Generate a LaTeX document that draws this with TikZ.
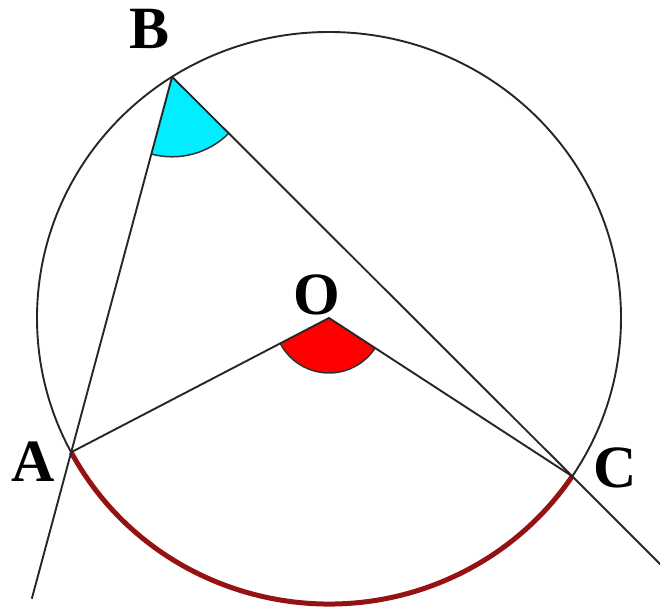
\documentclass[tikz,border=0pt]{standalone}
\usepackage{fontspec}
\setmainfont{Liberation Serif}
\usetikzlibrary{calc,angles}
\definecolor{arcred}{RGB}{150,18,18}
\definecolor{sectcyan}{RGB}{0,238,255}
\begin{document}
\begin{tikzpicture}[x=1pt,y=1pt,
  geo/.style={line width=1.9pt, black!85},
  redarc/.style={line width=5pt, arcred},
  lbl/.style={font=\fontsize{60}{60}\selectfont\bfseries, inner sep=0pt}]
\useasboundingbox (0,0) rectangle (660,607);
\coordinate (O) at (329,289);
\coordinate (A) at ($(O)+(208:292pt and 286pt)$);
\coordinate (B) at ($(O)+(122.5:292pt and 286pt)$);
\coordinate (C) at ($(O)+(-33.6:292pt and 286pt)$);
\coordinate (A2) at ($(B)!1.39!(A)$);
\coordinate (C2) at ($(B)!1.225!(C)$);
% angle sectors
\pic[draw=black!80, line width=1.5pt, fill=sectcyan, angle radius=80pt] {angle=A--B--C};
\pic[draw=black!80, line width=1.5pt, fill=red, angle radius=55pt] {angle=A--O--C};
% circle
\draw[geo] (O) ellipse [x radius=292pt, y radius=286pt];
% red arc
\draw[redarc] (A) arc[start angle=208, end angle=326.4, x radius=292pt, y radius=286pt];
% lines
\draw[geo] (B) -- (A2);
\draw[geo] (B) -- (C2);
\draw[geo] (A) -- (O) -- (C);
% labels
\node[lbl] (lB) at (150,578) {B};
\node[lbl] (lA) at (33,145) {A};
\node[lbl] (lC) at (615,139) {C};
\node[lbl] (lO) at (317,312) {O};
\end{tikzpicture}
\end{document}
